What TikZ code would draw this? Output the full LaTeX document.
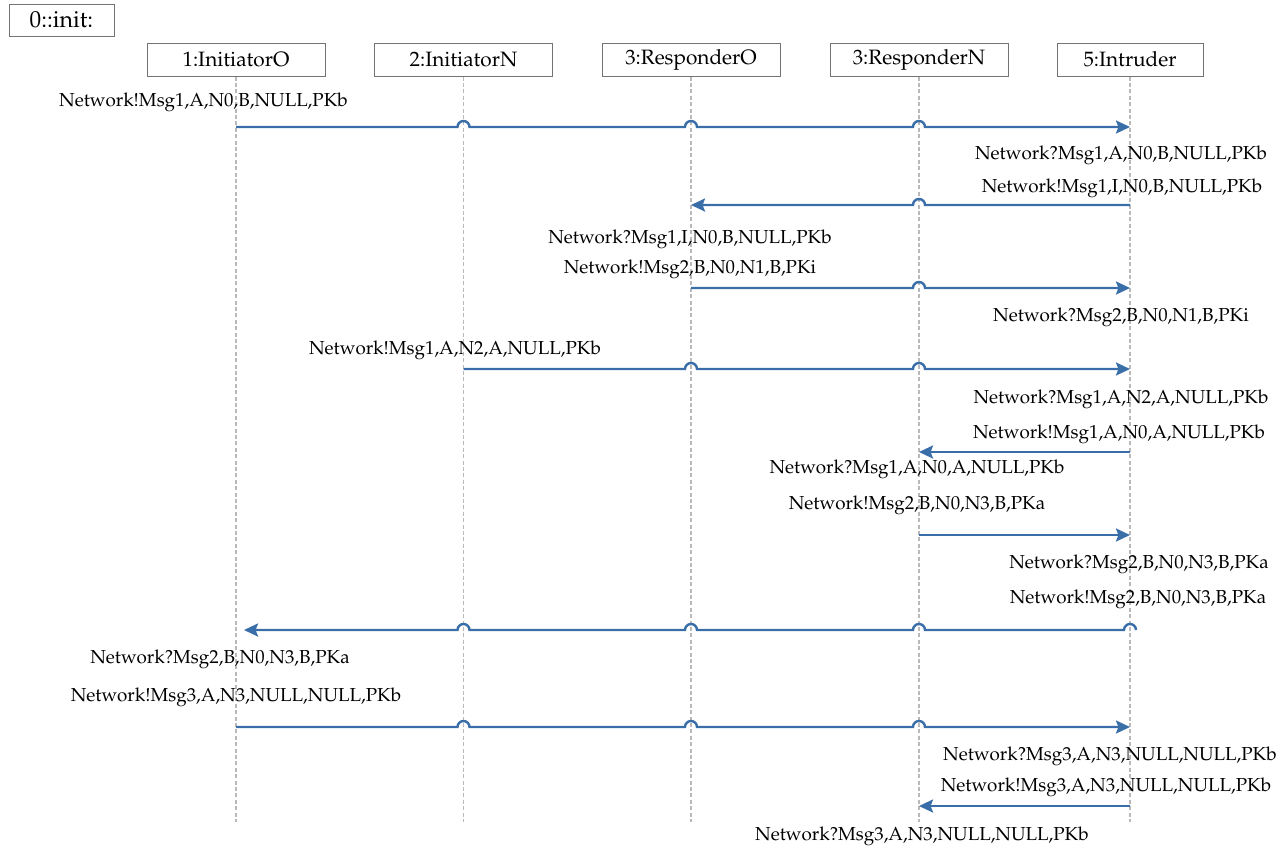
\documentclass[tikz,border=0pt]{standalone}
\usepackage[T1]{fontenc}
\usepackage{mathpazo}
\usepackage{xcolor}
\usepackage{tikz}
\usetikzlibrary{arrows.meta,calc,positioning}
\definecolor{msgBlue}{RGB}{58,110,168}
\definecolor{lifeGray}{RGB}{185,185,185}
\tikzstyle{tsText} = [ 
    text=black, 
    font=\fontsize{10.4}{12}\selectfont
]
\tikzstyle{tsObject} = [ 
    rectangle,
    tsText,
    draw=black!55,
    fill=white,
    line width=0.5pt,
    minimum width=89pt,
    minimum height=16.5pt,
    inner sep=0pt
]
\tikzstyle{tsLifeline} = [ 
    draw=lifeGray,
    line width=0.8pt,
    dash pattern=on 2pt off 1.2pt
]
\tikzstyle{tsMsg} = [ 
    draw=msgBlue,
    line width=1.2pt,
    -{Stealth[length=7pt,width=6.5pt,inset=1.2pt]}
]
\tikzstyle{tsLabel} = [ 
    text=black,
    font=\fontsize{9.4}{11}\selectfont,
    inner sep=0pt,
    text height=7pt,
    text depth=2pt
]
% hop over a lifeline, going right / going left
\newcommand{\hopR}[2]{-- ([xshift=-3pt]#1 |- 0,#2) arc[start angle=180,end angle=360,radius=6]}
\newcommand{\hopL}[2]{-- ([xshift=3pt]#1 |- 0,#2) arc[start angle=0,end angle=-180,radius=6]}

\begin{document}
\begin{tikzpicture} [x=0.5pt, y=-0.5pt]

        \useasboundingbox (0,0) rectangle (1286,848);

        % Objects
        \node[tsObject, minimum width=52.5pt, minimum height=16pt, font=\fontsize{11.6}{13}\selectfont] (init) at (61.5,20) {0::init:};
        \node[tsObject] (iniO) at (236,59.5) {1:InitiatorO};
        \node[tsObject] (iniN) at (463.5,59.5) {2:InitiatorN};
        \node[tsObject] (resO) at (691,59.5) {3:ResponderO};
        \node[tsObject] (resN) at (919,59.5) {3:ResponderN};
        \node[tsObject, minimum width=73pt] (intr) at (1130,59.5) {5:Intruder};

        % Lifelines
        \foreach \obj in {iniO,iniN,resO,resN,intr}
            \draw[tsLifeline] (\obj.south) -- (\obj.south |- 0,822);

        % Msg1 from InitiatorO
        \node[tsLabel] (m1) at (203.5,101) {Network!Msg1,A,N0,B,NULL,PKb};
        \draw[tsMsg] (iniO |- 0,127) \hopR{iniN}{127} \hopR{resO}{127} \hopR{resN}{127} -- (intr |- 0,127);
        \node[tsLabel] (m2) at (1121,154) {Network?Msg1,A,N0,B,NULL,PKb};

        % Msg1 replayed to ResponderO
        \node[tsLabel] (m3) at (1122,187) {Network!Msg1,I,N0,B,NULL,PKb};
        \draw[tsMsg] (intr |- 0,205) \hopL{resN}{205} -- (resO |- 0,205);
        \node[tsLabel] (m4) at (690,238) {Network?Msg1,I,N0,B,NULL,PKb};

        % Msg2 from ResponderO
        \node[tsLabel] (m5) at (690,268) {Network!Msg2,B,N0,N1,B,PKi};
        \draw[tsMsg] (resO |- 0,288) \hopR{resN}{288} -- (intr |- 0,288);
        \node[tsLabel] (m6) at (1121,316) {Network?Msg2,B,N0,N1,B,PKi};

        % Msg1 from InitiatorN
        \node[tsLabel] (m7) at (455,349) {Network!Msg1,A,N2,A,NULL,PKb};
        \draw[tsMsg] (iniN |- 0,369) \hopR{resO}{369} \hopR{resN}{369} -- (intr |- 0,369);
        \node[tsLabel] (m8) at (1121,398) {Network?Msg1,A,N2,A,NULL,PKb};

        % Msg1 replayed to ResponderN
        \node[tsLabel] (m9) at (1119,433) {Network!Msg1,A,N0,A,NULL,PKb};
        \draw[tsMsg] (intr |- 0,452) -- (resN |- 0,452);
        \node[tsLabel] (m10) at (917,468) {Network?Msg1,A,N0,A,NULL,PKb};

        % Msg2 from ResponderN
        \node[tsLabel] (m11) at (917,504) {Network!Msg2,B,N0,N3,B,PKa};
        \draw[tsMsg] (resN |- 0,535) -- (intr |- 0,535);
        \node[tsLabel] (m12) at (1139,563) {Network?Msg2,B,N0,N3,B,PKa};

        % Msg2 replayed to InitiatorO
        \node[tsLabel] (m13) at (1138,598) {Network!Msg2,B,N0,N3,B,PKa};
        \draw[tsMsg, shorten >=4pt] ([xshift=3pt]intr |- 0,630) arc[start angle=0,end angle=-180,radius=6]
            \hopL{resN}{630} \hopL{resO}{630} \hopL{iniN}{630} -- (iniO |- 0,630);
        \node[tsLabel] (m14) at (220,658) {Network?Msg2,B,N0,N3,B,PKa};

        % Msg3 from InitiatorO
        \node[tsLabel] (m15) at (236,696) {Network!Msg3,A,N3,NULL,NULL,PKb};
        \draw[tsMsg] (iniO |- 0,727) \hopR{iniN}{727} \hopR{resO}{727} \hopR{resN}{727} -- (intr |- 0,727);
        \node[tsLabel] (m16) at (1110,755) {Network?Msg3,A,N3,NULL,NULL,PKb};

        % Msg3 replayed to ResponderN
        \node[tsLabel] (m17) at (1106,786) {Network!Msg3,A,N3,NULL,NULL,PKb};
        \draw[tsMsg] (intr |- 0,806) -- (resN |- 0,806);
        \node[tsLabel] (m18) at (922,835) {Network?Msg3,A,N3,NULL,NULL,PKb};

    \end{tikzpicture}
\end{document}
